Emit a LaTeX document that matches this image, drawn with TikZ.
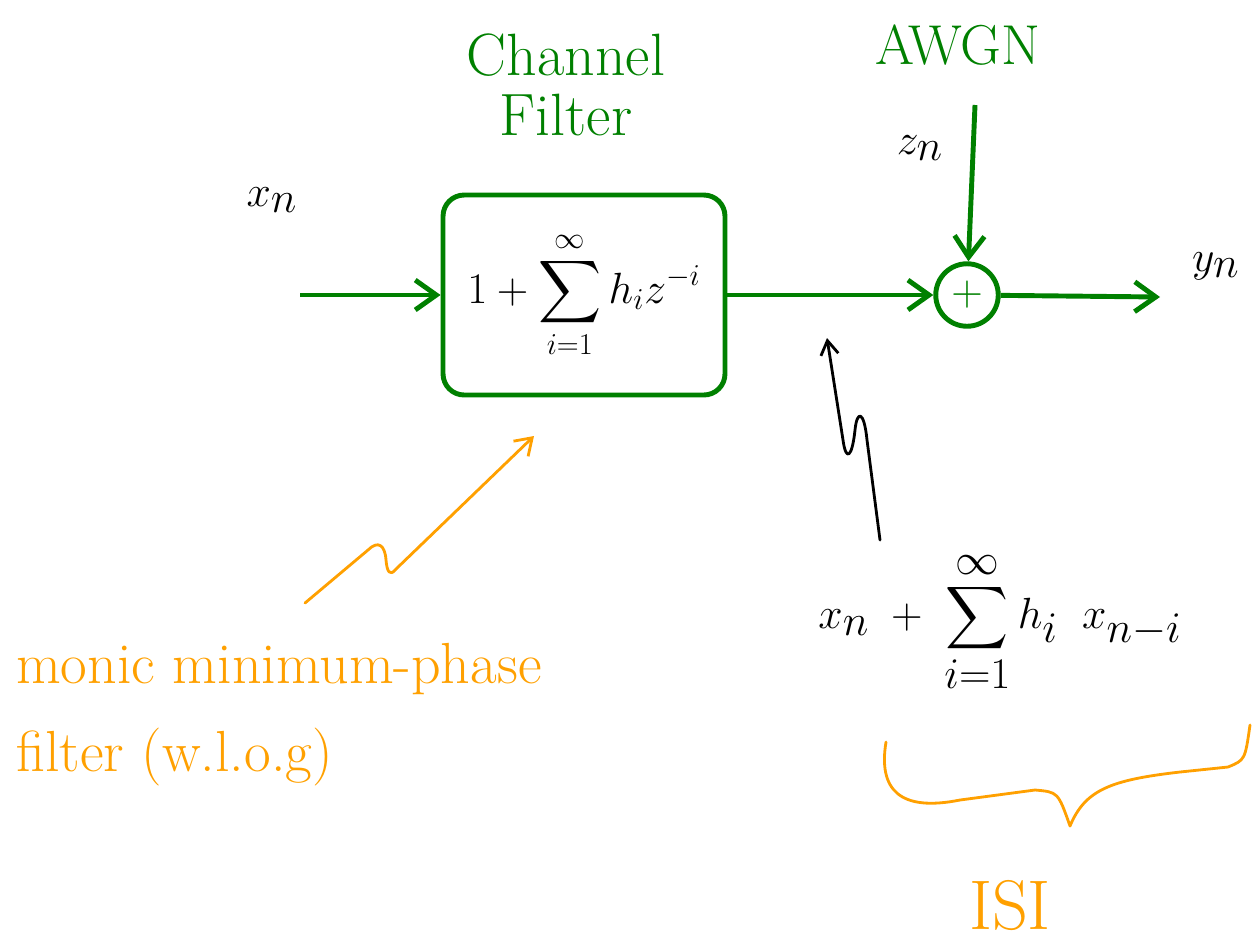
\documentclass[tikz,border=0pt]{standalone}
\usepackage{exscale}
\usetikzlibrary{arrows.meta}
\definecolor{hgreen}{RGB}{0,128,0}
\definecolor{horange}{RGB}{255,160,0}
\newcommand{\hfont}[1]{\fontsize{#1}{1.6\dimexpr#1pt\relax}\selectfont}

\begin{document}
\begin{tikzpicture}[
  x=0.02cm, y=-0.02cm,
  >={Straight Barb[length=12pt,width=17pt]},
  sig/.style={hgreen,line width=2.8pt,->},
  pen/.style={line width=1.6pt,line cap=round,line join=round},
  every node/.style={font=\hfont{34}}
]
  \useasboundingbox (0,0) rectangle (1256,941);

  % blocks
  \node[draw=hgreen,line width=2.8pt,rounded corners=12pt,
    minimum width=5.64cm,minimum height=4cm,font=\hfont{26}] (filt) at (584,295)
    {$\displaystyle 1+\sum_{i=1}^{\infty} h_i z^{-i}$};
  \node[circle,draw=hgreen,line width=2.8pt,minimum size=1.25cm,inner sep=0pt,
    text=hgreen,font=\hfont{26}] (sum) at (967,295) {$+$};

  % labels
  \node[hgreen,align=center,font=\fontsize{34}{34}\selectfont] (chan) at (566,85)
    {Channel\\Filter};
  \node[hgreen,font=\hfont{32}] (awgn) at (958,45) {AWGN};
  \node (zn) at (920,148) {$z_n$};
  \node (xn) at (272,200) {$x_n$};
  \node[anchor=west] (yn) at (1186,266) {$y_n$};
  \node[font=\hfont{39}] (isi) at (1000,622)
    {$\displaystyle x_n \;+\; \sum_{i=1}^{\infty} h_i \;\; x_{n-i}$};
  \node[horange,anchor=west,align=left,font=\fontsize{33}{50}\selectfont] (mono) at (10,715)
    {monic minimum-phase\\filter (w.l.o.g)};
  \node[horange,font=\hfont{40}] (isilab) at (1010,905) {ISI};

  % signal path
  \coordinate (in) at (300,295);
  \coordinate (out) at (1160,297);
  \coordinate (noise) at (975,105);
  \draw[sig] (in) -- (filt);
  \draw[sig] (filt) -- (sum);
  \draw[sig] (noise) -- (sum);
  \draw[sig] (sum) -- (out);

  % pointer to the channel output
  \coordinate (isitail) at (880,540);
  \coordinate (isihead) at (827,338);
  \draw[pen,-{Straight Barb[length=8pt,width=10pt]}] (isitail) -- (867,440)
    .. controls (864,410) and (857,410) .. (855,430)
    .. controls (852,458) and (846,462) .. (843,440) -- (isihead);

  % pointer to the filter
  \coordinate (ortail) at (305,603);
  \coordinate (orhead) at (534,436);
  \draw[pen,horange,-{Straight Barb[length=9pt,width=12pt]}] (ortail) -- (368,550)
    .. controls (378,540) and (385,545) .. (386,560)
    .. controls (387,572) and (390,576) .. (395,570) -- (orhead);

  % brace under the ISI terms
  \draw[pen,horange] (886,742) .. controls (878,790) and (900,812) .. (960,800)
    -- (1035,790) .. controls (1058,792) .. (1070,826)
    .. controls (1085,790) and (1110,780) .. (1180,772)
    -- (1228,767) .. controls (1245,760) .. (1250,725);
\end{tikzpicture}
\end{document}
